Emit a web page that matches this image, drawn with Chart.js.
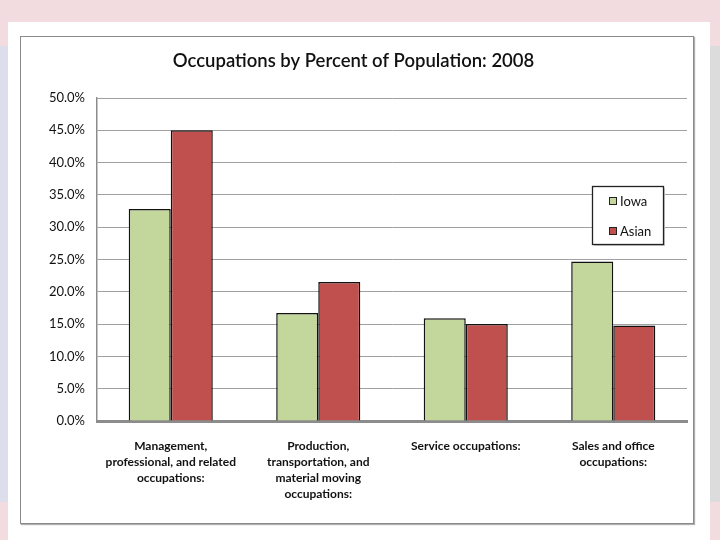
<!DOCTYPE html>
<html>
<head>
<meta charset="utf-8">
<script src="https://cdn.jsdelivr.net/npm/chart.js@4"></script>
<style>
  html, body { margin:0; padding:0; }
  body { width:720px; height:540px; position:relative; overflow:hidden; background:#ffffff; font-family: Lato, "Liberation Sans", sans-serif; }
  .bg { position:absolute; }
  #wrap { position:absolute; left:0; top:0; width:720px; height:540px; }
</style>
</head>
<body>
<div class="bg" style="left:0;top:0;width:720px;height:46px;background:#f2dcdf;"></div>
<div class="bg" style="left:0;top:46px;width:8px;height:456px;background:#dcdeeb;"></div>
<div class="bg" style="left:710px;top:46px;width:10px;height:456px;background:#dcdcdc;"></div>
<div class="bg" style="left:0;top:502px;width:720px;height:38px;background:#f2dcdf;"></div>
<div class="bg" style="left:8px;top:22px;width:702px;height:518px;background:#ffffff;"></div>
<div class="bg" style="left:20px;top:36px;width:672px;height:486px;border:1px solid #8a8a8a;box-shadow:1px 1px 1px #b0b0b0;background:#ffffff;"></div>
<div id="wrap"><canvas id="c" width="720" height="540"></canvas></div>
<script>
const titleText = "Occupations by Percent of Population: 2008";
const categories = [
  ["Management,", "professional, and related", "occupations:"],
  ["Production,", "transportation, and", "material moving", "occupations:"],
  ["Service occupations:"],
  ["Sales and office", "occupations:"]
];
const seriesNames = ["Iowa", "Asian"];
const iowaValues = [32.8, 16.7, 15.9, 24.7];
const asianValues = [45.0, 21.5, 15.0, 14.8];
const yTicks = [0, 5, 10, 15, 20, 25, 30, 35, 40, 45, 50];

const fillColors = ["#c3d69b", "#c0504d"];
const FONT = 'Lato, "Liberation Sans", sans-serif';

const legendBox = {
  id: 'legendBox',
  afterDraw(chart) {
    const ctx = chart.ctx;
    const x = 592, y = 186, w = 71, h = 58;
    ctx.save();
    ctx.fillStyle = '#c8c8c8';
    ctx.fillRect(x + 2, y + 2, w, h);
    ctx.fillStyle = '#ffffff';
    ctx.fillRect(x, y, w, h);
    ctx.strokeStyle = '#222222';
    ctx.lineWidth = 1.3;
    ctx.strokeRect(x + 0.5, y + 0.5, w, h);
    ctx.font = '13px ' + FONT;
    ctx.textBaseline = 'middle';
    chart.data.datasets.forEach((ds, i) => {
      const cy = y + 15 + i * 30;
      ctx.fillStyle = ds.backgroundColor;
      ctx.fillRect(x + 17, cy - 4, 7, 7);
      ctx.strokeStyle = '#222';
      ctx.lineWidth = 1;
      ctx.strokeRect(x + 17.5, cy - 3.5, 7, 7);
      ctx.fillStyle = '#111';
      ctx.fillText(ds.label, x + 28, cy + 1);
    });
    ctx.restore();
  }
};

new Chart(document.getElementById('c'), {
  type: 'bar',
  data: {
    labels: categories,
    datasets: [
      { label: seriesNames[0], data: iowaValues, backgroundColor: fillColors[0], borderColor: '#111111', borderWidth: 1.5, borderSkipped: 'bottom' },
      { label: seriesNames[1], data: asianValues, backgroundColor: fillColors[1], borderColor: '#111111', borderWidth: 1.5, borderSkipped: 'bottom' }
    ]
  },
  options: {
    responsive: false,
    animation: false,
    devicePixelRatio: 1,
    layout: { padding: { left: 20, top: 36, right: 33, bottom: 20 } },
    datasets: { bar: { categoryPercentage: 0.57, barPercentage: 1.0 } },
    plugins: {
      legend: { display: false },
      tooltip: { enabled: false },
      title: {
        display: true,
        text: titleText,
        color: '#111',
        font: { family: FONT, size: 18.5, weight: '600', lineHeight: 1.0 },
        padding: { top: 16, bottom: 27.5 }
      }
    },
    scales: {
      x: {
        grid: { display: false, drawTicks: false },
        border: { color: '#8c8c8c', width: 3 },
        ticks: {
          autoSkip: false, maxRotation: 0, minRotation: 0, padding: 17,
          color: '#111',
          font: { family: FONT, size: 12, weight: 'bold', lineHeight: 1.34 }
        },
        afterFit(scale) { scale.height = 99; }
      },
      y: {
        min: 0, max: 50,
        afterBuildTicks(scale) { scale.ticks = yTicks.map(v => ({ value: v })); },
        grid: { color: '#a0a0a0', lineWidth: 1, drawTicks: false },
        border: { color: '#8c8c8c', width: 1.5 },
        ticks: {
          padding: 12,
          color: '#111',
          font: { family: FONT, size: 13 },
          callback: v => v.toFixed(1) + '%'
        },
        afterFit(scale) { scale.width = 77; }
      }
    }
  },
  plugins: [legendBox]
});
</script>
</body>
</html>
